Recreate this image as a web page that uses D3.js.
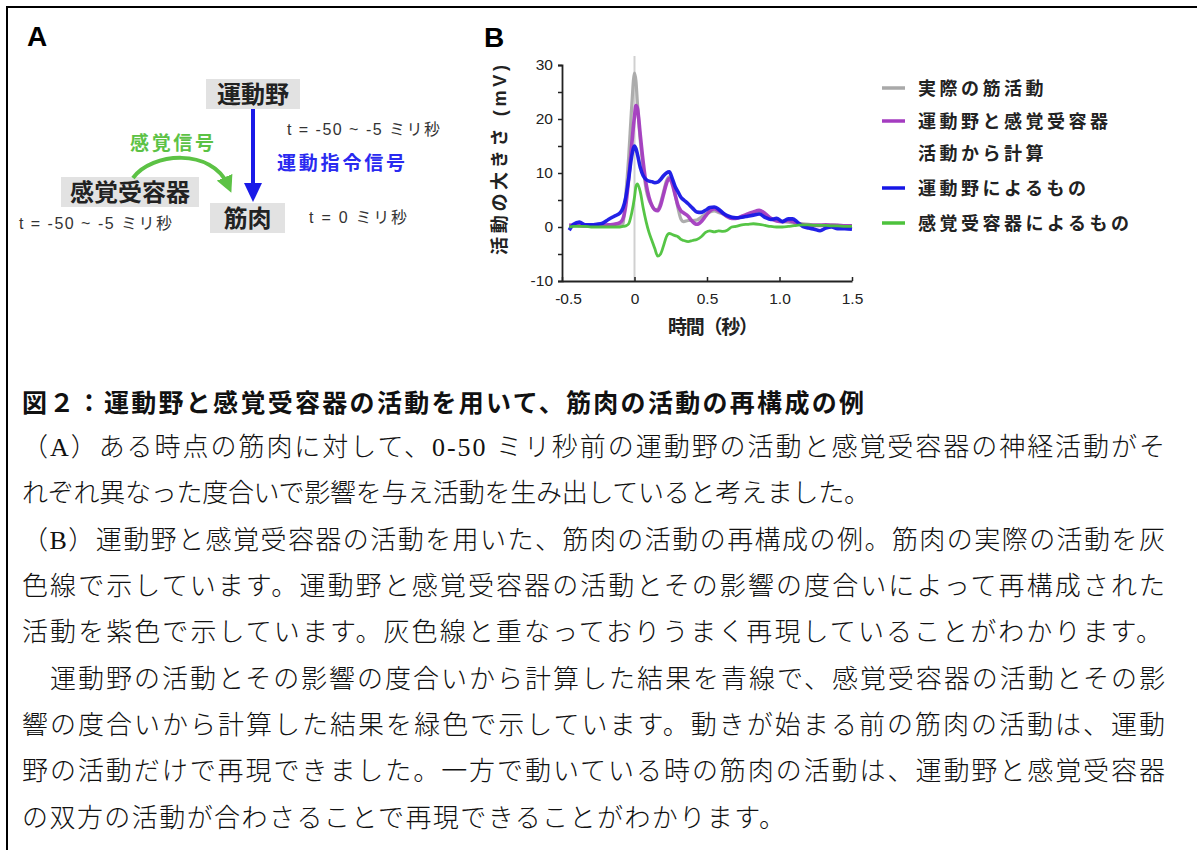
<!DOCTYPE html>
<meta charset="utf-8">
<script src="https://d3js.org/d3.v7.min.js"></script>
<style>
body { margin: 0; background: #fff; }
svg { display: block; }
text { font-family: 'Liberation Sans', Arial, 'Noto Sans CJK JP', sans-serif; }
.cjk { font-family: 'Liberation Sans', 'Noto Sans CJK JP', sans-serif; font-weight: 700; }
.caption { font-family: 'Liberation Serif', 'Noto Sans CJK JP', serif; fill: #111; }
.tick text { font-size: 15.5px; fill: #222; }
</style>
<svg id="fig" width="1197" height="850"></svg>
<script>
// time samples (s) shared by all series
const times = [-0.45, -0.42, -0.38, -0.34, -0.30, -0.26, -0.22, -0.18, -0.14, -0.10, -0.08, -0.06, -0.04, -0.02, 0.00, 0.01, 0.02, 0.04, 0.06, 0.08,
  0.10, 0.12, 0.14, 0.16, 0.18, 0.20, 0.22, 0.24, 0.26, 0.28, 0.30, 0.32, 0.34, 0.37, 0.40, 0.43, 0.46, 0.49, 0.52, 0.55,
  0.58, 0.61, 0.64, 0.67, 0.70, 0.74, 0.78, 0.82, 0.86, 0.90, 0.94, 0.98, 1.02, 1.06, 1.09, 1.12, 1.16, 1.20, 1.24, 1.28,
  1.32, 1.36, 1.40, 1.45, 1.50];

// 実際の筋活動
const actual = [0.2, 0.2, 0.2, 0.2, 0.2, 0.2, 0.2, 0.2, 0.2, 0.3, 0.5, 6, 13, 22, 28.5, 27, 23, 16, 11, 7,
  5, 4, 3.2, 3.3, 4.5, 6.5, 8.5, 9.3, 8.5, 6, 3.5, 1.5, 1, 1.2, 1.2, 1.3, 1.8, 2.4, 2.8, 3,
  2.7, 2.4, 2, 1.8, 1.7, 1.8, 2.2, 2.5, 2.6, 2.2, 1.6, 1.2, 1, 0.9, 0.8, 0.7, 0.6, 0.5, 0.4, 0.4,
  0.3, 0.4, 0.3, 0.2, 0.2];
// 運動野と感覚受容器 活動から計算
const combined = [0.3, 0.4, 0.3, 0.2, 0.2, 0.2, 0.3, 0.4, 0.5, 0.8, 1.5, 4, 9, 15, 20.5, 22.5, 22, 17, 12, 8,
  5.5, 4, 3.2, 3, 4, 6, 8, 9, 8, 6, 4, 3, 2.6, 2, 1, 0.5, 1, 2, 3, 3.4,
  3, 2.5, 1.9, 1.6, 1.6, 2, 2.4, 2.8, 3.1, 2.5, 1.6, 1.1, 1, 1.2, 1, 0.7, 0.4, 0.3, 0.3, 0.3,
  0.4, 0.3, 0.3, 0.2, 0.2];
// 運動野によるもの
const motor = [-0.6, 0.5, 0.9, 0.4, 0.4, 0.5, 0.7, 1.4, 2, 2.6, 3.5, 5.5, 9, 13, 15, 14.5, 13.5, 11, 9.5, 8.8,
  8.5, 8.4, 8.2, 8.3, 8.8, 9.5, 10, 10.2, 9, 7.5, 6.5, 5.5, 5, 4.3, 3.5, 2.8, 2.7, 3.1, 3.6, 3.7,
  3.3, 2.6, 2.1, 1.8, 1.7, 1.8, 2, 2.2, 2.4, 1.8, 1.4, 1.6, 1, 1.5, 1.5, 1, 0.1, -0.2, -0.4, -0.7,
  -0.2, 0, -0.3, -0.3, -0.4];
// 感覚受容器によるもの
const sensory = [0, 0.1, 0.1, 0.1, 0, 0, 0, 0, 0, 0, 0.1, 0.2, 0.6, 2.5, 5.5, 7.5, 8, 6.5, 3.5, 1,
  -1, -2.5, -4, -5.4, -5, -3.5, -1.8, -1.2, -1.4, -1.6, -1.8, -2.3, -2.5, -2.7, -2.5, -2.3, -1.8, -1, -0.7, -0.9,
  -0.7, -0.8, -0.6, 0, 0.1, 0.4, 0.5, 0.6, 0.5, 0.3, 0.1, 0, 0, 0.1, 0.2, 0.3, 0.4, 0.4, 0.3, 0.3,
  0.3, 0.2, 0.2, 0.1, 0.1];

const seriesNames = ['実際の筋活動', '運動野と感覚受容器\n活動から計算', '運動野によるもの', '感覚受容器によるもの'];
const seriesColors = ['#a9a9a9', '#a43cc0', '#1616e6', '#4dc23c'];
const seriesValues = [actual, combined, motor, sensory];

const xTicks = [-0.5, 0, 0.5, 1.0, 1.5];
const xTickLabels = ['-0.5', '0', '0.5', '1.0', '1.5'];
const yTicks = [-10, -5, 0, 5, 10, 15, 20, 25, 30];
const yTickLabels = [-10, 0, 10, 20, 30];

const captionTitle = '図２：運動野と感覚受容器の活動を用いて、筋肉の活動の再構成の例';
const captionLines = [
  '（A）ある時点の筋肉に対して、0-50 ミリ秒前の運動野の活動と感覚受容器の神経活動がそ',
  'れぞれ異なった度合いで影響を与え活動を生み出していると考えました。',
  '（B）運動野と感覚受容器の活動を用いた、筋肉の活動の再構成の例。筋肉の実際の活動を灰',
  '色線で示しています。運動野と感覚受容器の活動とその影響の度合いによって再構成された',
  '活動を紫色で示しています。灰色線と重なっておりうまく再現していることがわかります。',
  '　運動野の活動とその影響の度合いから計算した結果を青線で、感覚受容器の活動とその影',
  '響の度合いから計算した結果を緑色で示しています。動きが始まる前の筋肉の活動は、運動',
  '野の活動だけで再現できました。一方で動いている時の筋肉の活動は、運動野と感覚受容器',
  'の双方の活動が合わさることで再現できることがわかります。'
];
// rendered width of each caption line (justified lines fill the column)
const captionWidths = [1143, 848, 1143, 1143, 1140, 1143, 1143, 1143, 763];

const svg = d3.select('#fig');

svg.append('rect').attr('width', 1197).attr('height', 850).attr('fill', '#fff');

// frame
svg.append('line').attr('x1', 6).attr('y1', 7).attr('x2', 1197).attr('y2', 7)
  .attr('stroke', '#000').attr('stroke-width', 2);
svg.append('line').attr('x1', 7).attr('y1', 6).attr('x2', 7).attr('y2', 850)
  .attr('stroke', '#000').attr('stroke-width', 2);

// ---------- panel A ----------
const pa = svg.append('g');

pa.append('text').attr('x', 27).attr('y', 46)
  .style('font-size', '28px').style('font-weight', 700).text('A');

const boxes = [
  { label: '運動野', x: 206, y: 79, w: 94, h: 30 },
  { label: '感覚受容器', x: 61, y: 177, w: 138, h: 30 },
  { label: '筋肉', x: 210, y: 203, w: 75, h: 30 }
];
boxes.forEach(b => {
  pa.append('rect').attr('x', b.x).attr('y', b.y).attr('width', b.w).attr('height', b.h).attr('fill', '#e2e2e2');
  pa.append('text').attr('class', 'cjk').attr('x', b.x + b.w / 2).attr('y', b.y + b.h / 2 + 8.5)
    .attr('text-anchor', 'middle').style('font-size', '24px').attr('fill', '#222').text(b.label);
});

const defs = svg.append('defs');
defs.append('marker').attr('id', 'arrGreen').attr('viewBox', '0 0 10 10')
  .attr('refX', 5).attr('refY', 5).attr('markerWidth', 4.2).attr('markerHeight', 4.2)
  .attr('orient', 'auto').attr('markerUnits', 'strokeWidth')
  .append('path').attr('d', 'M0,0 L10,5 L0,10 z').attr('fill', '#5cc245');

pa.append('path').attr('d', 'M133,178 C152,152 212,148 228,185')
  .attr('fill', 'none').attr('stroke', '#5cc245').attr('stroke-width', 4)
  .attr('marker-end', 'url(#arrGreen)');

pa.append('line').attr('x1', 253).attr('y1', 109).attr('x2', 253).attr('y2', 186)
  .attr('stroke', '#1a1ae8').attr('stroke-width', 4);
pa.append('path').attr('d', 'M244,183 L262,183 L253,202 z').attr('fill', '#1a1ae8');

pa.append('text').attr('class', 'cjk').attr('x', 130).attr('y', 150)
  .attr('textLength', 84).attr('lengthAdjust', 'spacing')
  .style('font-size', '19px').attr('fill', '#5cc245').text('感覚信号');
pa.append('text').attr('class', 'cjk').attr('x', 277).attr('y', 170)
  .attr('textLength', 128).attr('lengthAdjust', 'spacing')
  .style('font-size', '19px').attr('fill', '#2a2af0').text('運動指令信号');

const tLabel = (x0, y0, w, s) => pa.append('text').attr('x', x0).attr('y', y0)
  .attr('textLength', w).attr('lengthAdjust', 'spacing')
  .style('font-size', '16px').attr('fill', '#333').text(s);
tLabel(287, 135, 153, 't = -50 ~ -5 ミリ秒');
tLabel(19, 229, 153, 't = -50 ~ -5 ミリ秒');
tLabel(309, 223, 98, 't = 0 ミリ秒');

// ---------- panel B ----------
svg.append('text').attr('x', 484).attr('y', 47)
  .style('font-size', '28px').style('font-weight', 700).text('B');

const x = d3.scaleLinear().domain([-0.5, 1.5]).range([562, 852]);
const y = d3.scaleLinear().domain([-10, 30]).range([281, 65]);

// marker line at t = 0
svg.append('line').attr('x1', x(0)).attr('x2', x(0)).attr('y1', 56).attr('y2', 281)
  .attr('stroke', '#d0d0d0').attr('stroke-width', 2);

const yAxis = svg.append('g').attr('transform', 'translate(562,0)')
  .call(d3.axisLeft(y).tickValues(yTicks).tickSize(4).tickPadding(5)
    .tickFormat(d => yTickLabels.includes(d) ? d : ''));
const xAxis = svg.append('g').attr('transform', 'translate(0,281)')
  .call(d3.axisBottom(x).tickValues(xTicks).tickSizeInner(-4).tickSizeOuter(0).tickPadding(9)
    .tickFormat((d, i) => xTickLabels[i]));
[xAxis, yAxis].forEach(a => {
  a.select('.domain').attr('stroke', '#222').attr('stroke-width', 1.8);
  a.selectAll('.tick line').attr('stroke', '#222').attr('stroke-width', 1.5);
});
xAxis.selectAll('.tick text').attr('dy', '0.9em');
xAxis.selectAll('.tick text').filter((d, i) => i === 0).attr('dx', 6);

const line = d3.line()
  .x((d, i) => x(times[i]))
  .y(d => y(d))
  .curve(d3.curveMonotoneX);

const widths = [3.2, 3.6, 3.6, 2.8];
seriesValues.forEach((vals, k) => {
  svg.append('path').datum(vals)
    .attr('d', line)
    .attr('fill', 'none')
    .attr('stroke', seriesColors[k])
    .attr('stroke-width', widths[k])
    .attr('stroke-linejoin', 'round')
    .attr('opacity', 0.95);
});

// axis titles
svg.append('text').attr('class', 'cjk')
  .attr('transform', 'translate(506,160) rotate(-90)')
  .attr('text-anchor', 'middle').style('font-size', '18px').attr('fill', '#222')
  .attr('textLength', 190).attr('lengthAdjust', 'spacing')
  .text('活動の大きさ (mV)');
svg.append('text').attr('class', 'cjk')
  .attr('x', 713).attr('y', 334).attr('text-anchor', 'middle')
  .attr('textLength', 90).attr('lengthAdjust', 'spacing')
  .style('font-size', '19px').attr('fill', '#222')
  .text('時間（秒）');

// legend
const legendRows = [88, 121, 188, 223];
seriesNames.forEach((name, k) => {
  const ly = legendRows[k];
  svg.append('line').attr('x1', 882).attr('x2', 905).attr('y1', ly).attr('y2', ly)
    .attr('stroke', seriesColors[k]).attr('stroke-width', 3.5);
  name.split('\n').forEach((part, j) => {
    svg.append('text').attr('class', 'cjk')
      .attr('x', 918).attr('y', ly + 7 + j * 32)
      .style('font-size', '18px').style('letter-spacing', '3.5px').attr('fill', '#222')
      .text(part);
  });
});

// ---------- caption ----------
svg.append('text').attr('class', 'caption')
  .attr('x', 22).attr('y', 412)
  .style('font-size', '25px').style('font-weight', 700)
  .attr('textLength', 842).attr('lengthAdjust', 'spacing')
  .text(captionTitle);

const lineY = [456, 502, 549, 595, 641, 688, 734, 780, 827];
captionLines.forEach((s, i) => {
  svg.append('text').attr('class', 'caption')
    .attr('x', 22).attr('y', lineY[i])
    .style('font-size', '26px').style('font-weight', 300)
    .attr('textLength', captionWidths[i]).attr('lengthAdjust', 'spacing')
    .text(s);
});
</script>
